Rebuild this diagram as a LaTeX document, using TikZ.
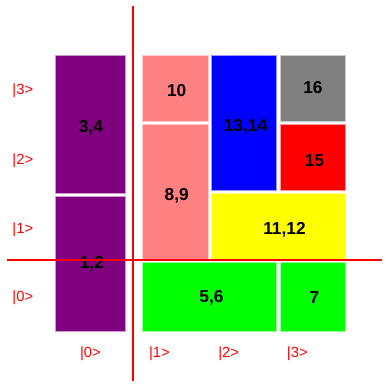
\documentclass[tikz,border=0pt]{standalone}
\usepackage{fontspec}
\setmainfont{Liberation Sans}
\usepackage{tikz}
\usetikzlibrary{positioning}
\definecolor{violetBloc}{RGB}{128, 0, 128}
\definecolor{roseBloc}{RGB}{255, 128, 128}
\definecolor{bleuBloc}{RGB}{0, 0, 255}
\definecolor{grisBloc}{RGB}{128, 128, 128}
\definecolor{rougeBloc}{RGB}{255, 0, 0}
\definecolor{jauneBloc}{RGB}{255, 255, 0}
\definecolor{vertBloc}{RGB}{0, 255, 0}
\begin{document}
\begin{tikzpicture}[
  x=1pt, y=-1pt,
  bloc/.style={rectangle, inner sep=0pt, outer sep=0pt, line width=0.6pt},
  num/.style={inner sep=0pt, font=\fontsize{17.3}{20}\selectfont\bfseries},
  ket/.style={text=red, inner sep=0pt, font=\fontsize{14.8}{17}\selectfont},
  axe/.style={draw=red, line width=2pt},
]
\useasboundingbox (0,0) rectangle (389,389);
\node[bloc, fill=violetBloc, draw=violetBloc!40!white,
  minimum width=69.3pt, minimum height=137.6pt,
  label={[num, xshift=0.5pt, yshift=-3pt]center:3,4}] (b34) at (90.4,124.5) {};
\node[bloc, fill=violetBloc, draw=violetBloc!40!white,
  minimum width=69.3pt, minimum height=135pt,
  label={[num, xshift=1.5pt]center:1,2}] (b12) at (90.4,263.8) {};
\node[bloc, fill=roseBloc, draw=roseBloc!40!white,
  minimum width=65.7pt, minimum height=65.3pt,
  label={[num, xshift=1.5pt, yshift=-2.5pt]center:10}] (b10) at (175.2,88.4) {};
\node[bloc, fill=roseBloc, draw=roseBloc!40!white,
  minimum width=65.7pt, minimum height=135pt,
  label={[num, xshift=1.5pt, yshift=-3.5pt]center:8,9}] (b89) at (175.2,191.8) {};
\node[bloc, fill=bleuBloc, draw=bleuBloc!40!white,
  minimum width=65.4pt, minimum height=134.3pt,
  label={[num, xshift=1.5pt, yshift=-4pt]center:13,14}] (b1314) at (244,122.9) {};
\node[bloc, fill=grisBloc, draw=grisBloc!40!white,
  minimum width=65.7pt, minimum height=65.3pt,
  label={[num, yshift=0.5pt]center:16}] (b16) at (312.9,88.4) {};
\node[bloc, fill=rougeBloc, draw=rougeBloc!40!white,
  minimum width=65.7pt, minimum height=65.7pt,
  label={[num, xshift=1.5pt, yshift=-3pt]center:15}] (b15) at (312.9,157.2) {};
\node[bloc, fill=jauneBloc, draw=jauneBloc!40!white,
  minimum width=134.4pt, minimum height=65.7pt,
  label={[num, xshift=6pt, yshift=-4pt]center:11,12}] (b1112) at (278.5,226.2) {};
\node[bloc, fill=vertBloc, draw=vertBloc!40!white,
  minimum width=134.4pt, minimum height=69pt,
  label={[num, xshift=2pt, yshift=-1pt]center:5,6}] (b56) at (209.5,296.8) {};
\node[bloc, fill=vertBloc, draw=vertBloc!40!white,
  minimum width=65.7pt, minimum height=69pt,
  label={[num, xshift=1.5pt, yshift=-1pt]center:7}] (b7) at (312.9,296.8) {};
\node[ket, anchor=west] (l3) at (12.3,90.7) {|3>};
\node[ket, anchor=west] (l2) at (12.3,160.7) {|2>};
\node[ket, anchor=west] (l1) at (12.3,229.7) {|1>};
\node[ket, anchor=west] (l0) at (12.3,298) {|0>};
\node[ket] (c0) at (90.5,353.3) {|0>};
\node[ket] (c1) at (159.5,353.3) {|1>};
\node[ket] (c2) at (228.7,353.3) {|2>};
\node[ket] (c3) at (297.3,353.3) {|3>};
\coordinate (haut) at (133,6);
\coordinate (bas) at (133,380.7);
\coordinate (gauche) at (6.7,260.3);
\coordinate (droite) at (381.7,260.3);
\draw[axe] (haut) -- (bas);
\draw[axe] (gauche) -- (droite);
\end{tikzpicture}
\end{document}
